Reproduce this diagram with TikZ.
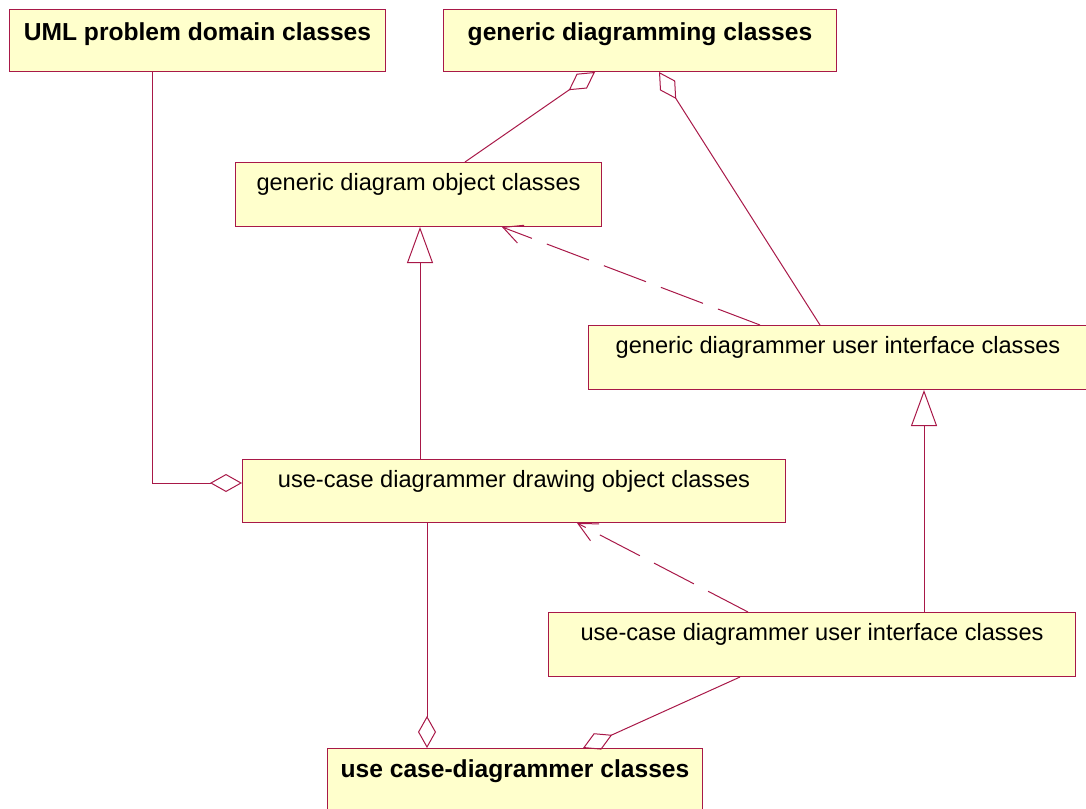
\documentclass[tikz,border=0pt]{standalone}
\usepackage{fontspec}
\setmainfont{Liberation Sans}
\usetikzlibrary{arrows.meta,calc}
\definecolor{umlline}{RGB}{168,24,72}
\definecolor{umlfill}{RGB}{255,255,204}
\tikzset{
  classbox/.style={draw=umlline, fill=umlfill, line width=1pt, anchor=north west, inner sep=0pt},
  boxtitle/.style={anchor=base, inner sep=0pt, font=\fontsize{23.6}{27}\selectfont},
  boldtitle/.style={anchor=base, inner sep=0pt, font=\fontsize{24.6}{28}\selectfont\bfseries},
  link/.style={draw=umlline, line width=1pt},
  aggr/.style={link, -{Diamond[open, length=32pt, width=18pt]}},
  gen/.style={link, -{Triangle[open, length=36pt, width=26pt]}},
  dep/.style={link, dash pattern=on 45pt off 16pt, -{Straight Barb[length=19pt, width=19pt]}},
}
\begin{document}
\begin{tikzpicture}[x=1pt,y=-1pt]
\useasboundingbox (0,0) rectangle (1086,808);
\clip (0,0) rectangle (1086,808);

% class packages
\node[classbox, minimum width=376pt, minimum height=62pt] (uml)  at (9,9)     {};
\node[classbox, minimum width=393pt, minimum height=62pt] (gdc)  at (443,9)   {};
\node[classbox, minimum width=366pt, minimum height=64pt] (gdo)  at (235,162) {};
\node[classbox, minimum width=510pt, minimum height=64pt] (gdui) at (588,325) {};
\node[classbox, minimum width=543pt, minimum height=63pt] (ucdo) at (242,459) {};
\node[classbox, minimum width=527pt, minimum height=64pt] (ucui) at (548,612) {};
\node[classbox, minimum width=375pt, minimum height=75pt] (ucd)  at (327,748) {};

% titles
\node[boldtitle] (uml-t)  at ($(uml.north)+(0,32)$) {UML problem domain classes};
\node[boldtitle] (gdc-t)  at ($(gdc.north)+(0,32)$) {generic diagramming classes};
\node[boxtitle]  (gdo-t)  at ($(gdo.north)+(0,28)$) {generic diagram object classes};
\node[boxtitle]  (gdui-t) at ($(gdui.north west)+(250,28)$) {generic diagrammer user interface classes};
\node[boxtitle]  (ucdo-t) at ($(ucdo.north)+(0,28)$) {use-case diagrammer drawing object classes};
\node[boxtitle]  (ucui-t) at ($(ucui.north)+(0,28)$) {use-case diagrammer user interface classes};
\node[boldtitle] (ucd-t)  at ($(ucd.north west)+(188,29)$) {use case-diagrammer classes};

% aggregations
\coordinate (umlout) at ($(uml.south west)+(143,0)$);
\coordinate (ucdoin) at ($(ucdo.north west)+(0,24)$);
\draw[aggr] (umlout) |- (ucdoin);
\draw[aggr] ($(gdo.north west)+(230,0)$) -- ($(gdc.south west)+(152,0)$);
\draw[aggr] ($(gdui.north west)+(232,0)$) -- ($(gdc.south west)+(216,0)$);
\draw[aggr] ($(ucdo.south west)+(185,0)$) -- ($(ucd.north west)+(100,0)$);
\draw[aggr] ($(ucui.south west)+(192,0)$) -- ($(ucd.north west)+(256,0)$);

% generalizations
\draw[gen] ($(ucdo.north west)+(178,0)$) -- ($(gdo.south west)+(185,0)$);
\draw[gen] ($(ucui.north west)+(376,0)$) -- ($(gdui.south west)+(336,0)$);

% dependencies
\draw[dep] ($(gdui.north west)+(172,0)$) -- ($(gdo.south west)+(267,0)$);
\draw[dep] ($(ucui.north west)+(200,0)$) -- ($(ucdo.south west)+(335,0)$);
\end{tikzpicture}
\end{document}
